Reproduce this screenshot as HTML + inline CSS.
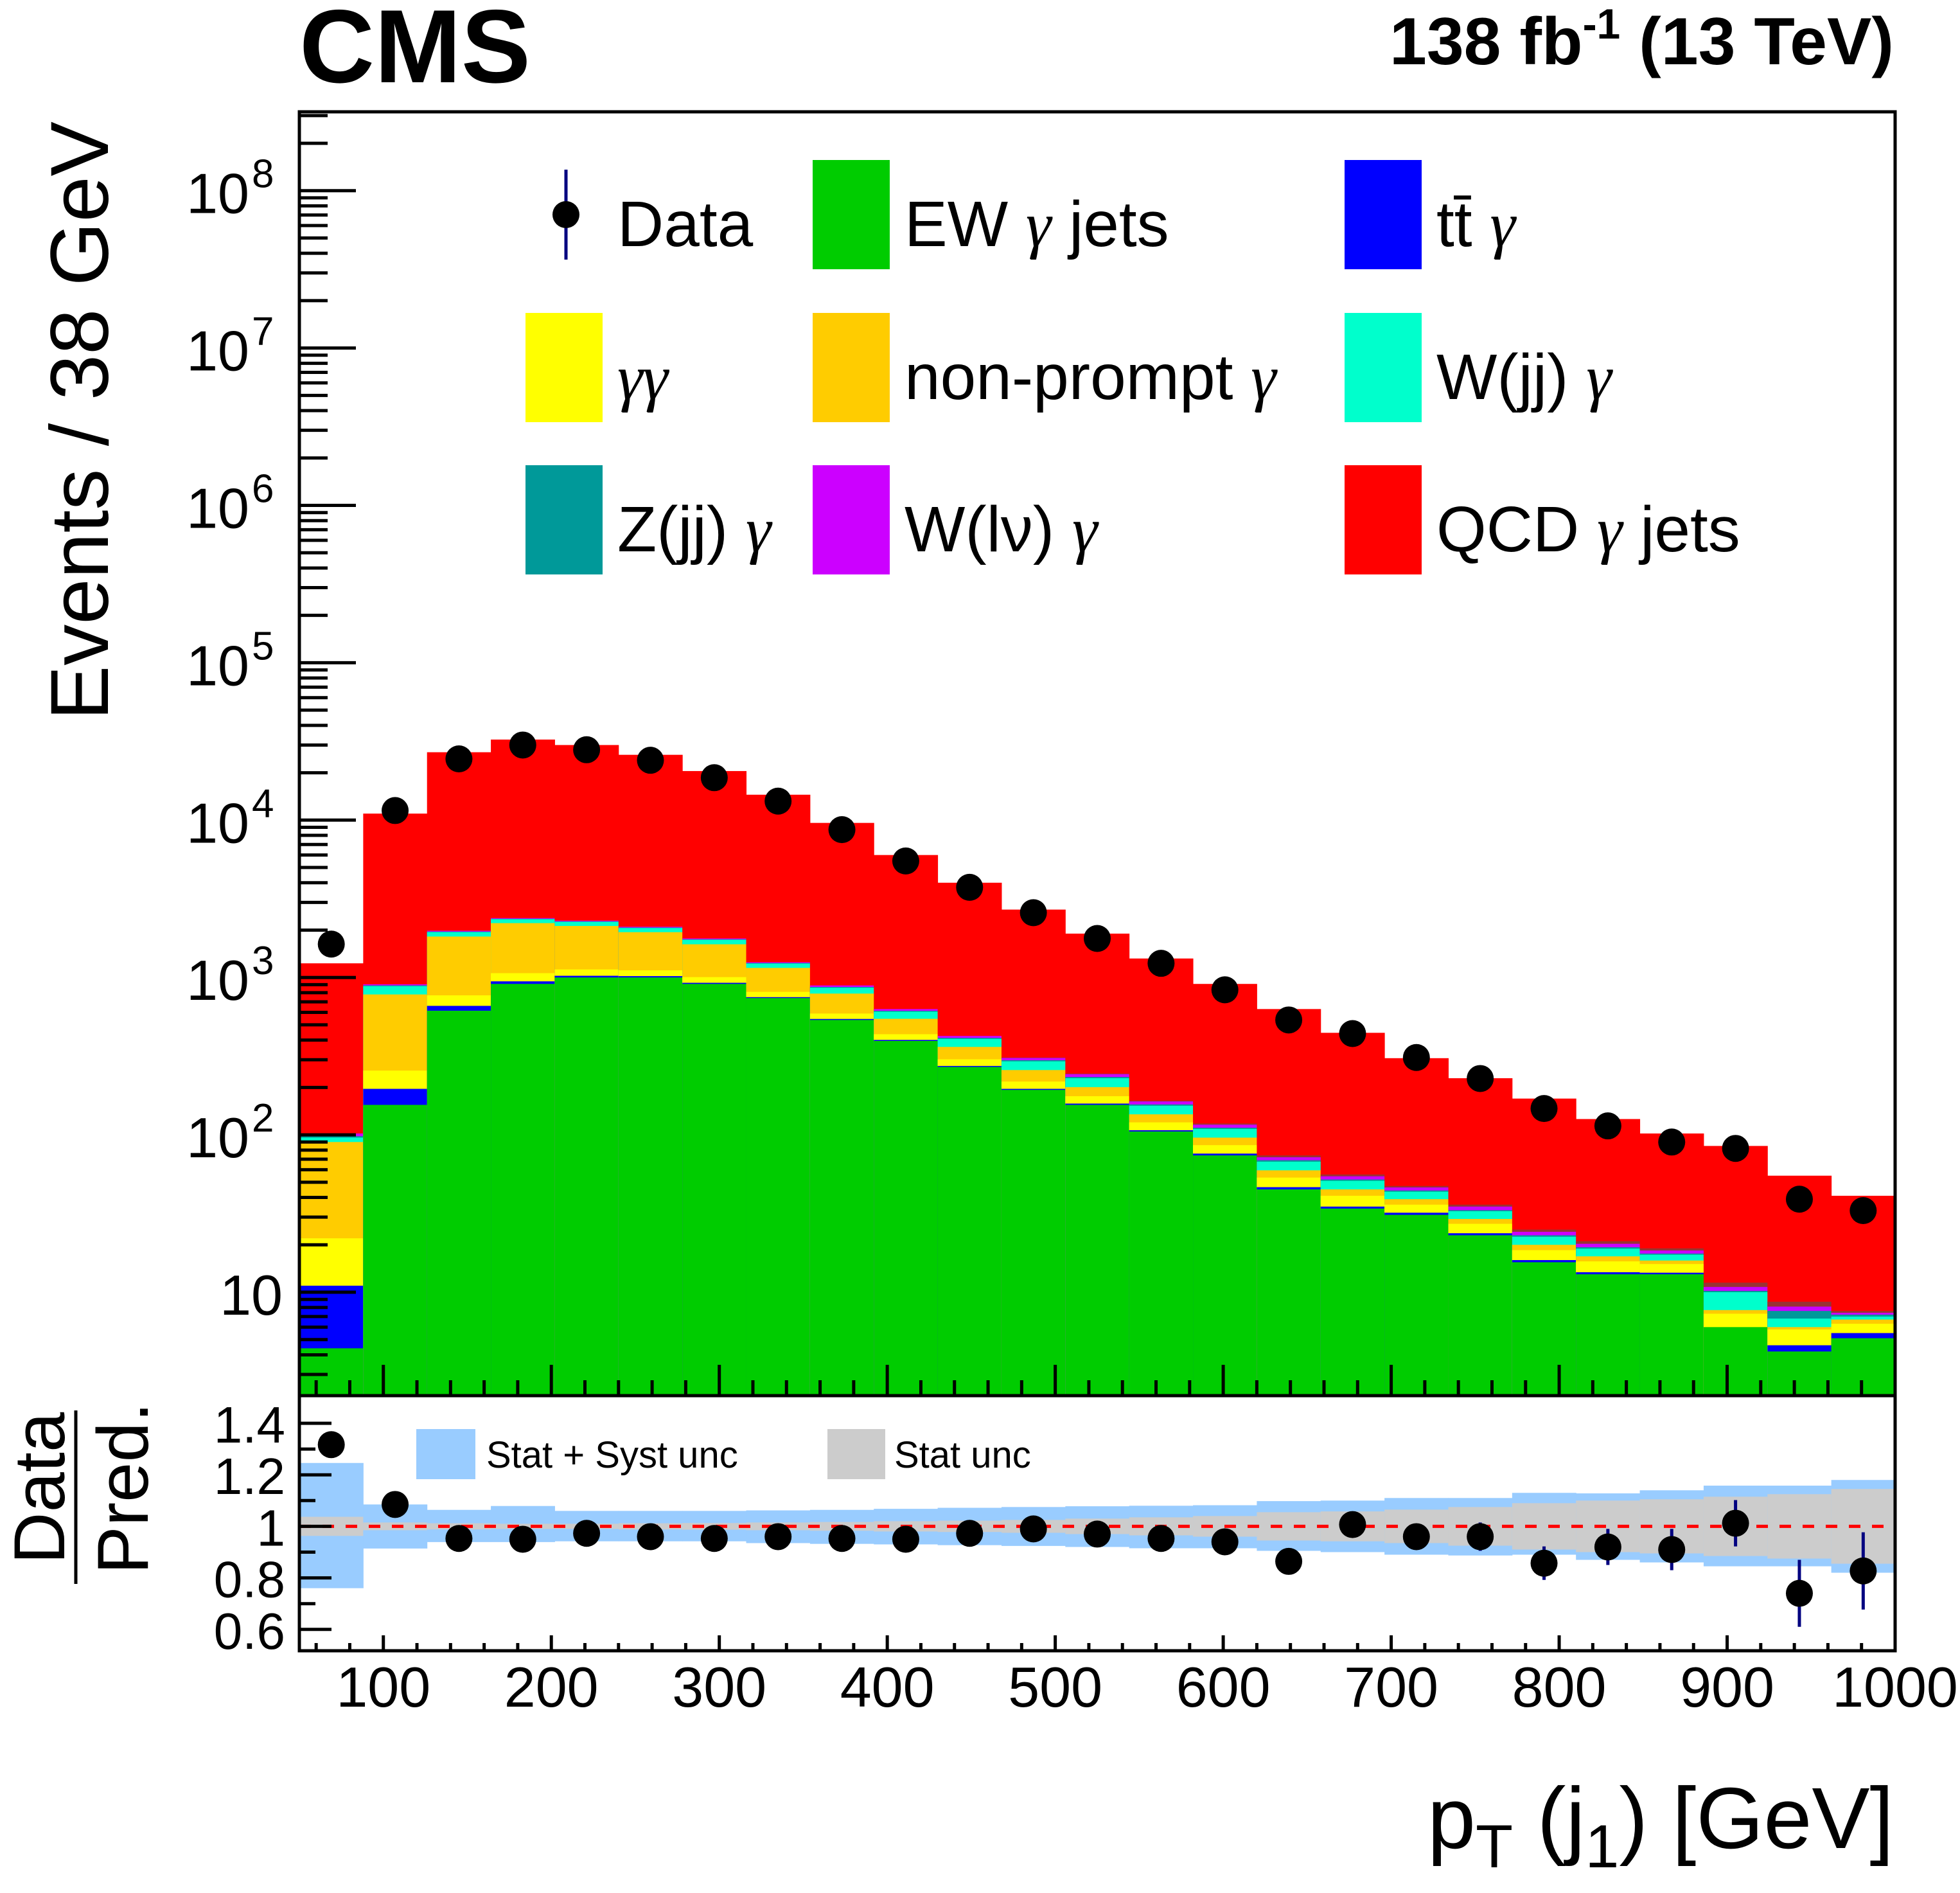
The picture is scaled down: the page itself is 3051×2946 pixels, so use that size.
<!DOCTYPE html>
<html><head><meta charset="utf-8"><style>
html,body{margin:0;padding:0;background:#fff;}
svg{display:block;font-family:"Liberation Sans",Arial,sans-serif;}
.g{font-family:"Liberation Serif",serif;font-style:italic;}
</style></head><body>
<svg id="chart" xmlns="http://www.w3.org/2000/svg" width="3051" height="2946" viewBox="0 0 3051 2946">
<text x="466" y="128" font-size="162" font-weight="bold">CMS</text>
<text x="2948" y="100" font-size="104" font-weight="bold" text-anchor="end">138 fb<tspan dy="-40" font-size="66">-1</tspan><tspan dy="40"> (13 TeV)</tspan></text>
<g id="main"></g>
<g id="ratio"></g>
<g id="axes"></g>
<g id="legend"></g>
<text transform="translate(168,655) rotate(-90)" font-size="128" text-anchor="middle">Events / 38 GeV</text>
<g>
<text transform="translate(100,2316) rotate(-90)" font-size="112" text-anchor="middle">Data</text>
<line x1="118" y1="2195" x2="118" y2="2465" stroke="#000" stroke-width="5"/>
<text transform="translate(230,2316) rotate(-90)" font-size="112" text-anchor="middle">Pred.</text>
</g>
<text x="2948" y="2876" font-size="135" text-anchor="end">p<tspan dy="30" font-size="95">T</tspan><tspan dy="-30"> (j</tspan><tspan dy="30" font-size="95">1</tspan><tspan dy="-30">) [GeV]</tspan></text>
</svg>
<script>
// ---- data ----
const binLow = [50,88,126,164,202,240,278,316,354,392,430,468,506,544,582,620,658,696,734,772,810,848,886,924,962];
const dataVals = [1630,11500,24500,30000,28000,24000,18600,13200,8700,5500,3740,2580,1770,1230,835,537,440,310,228,147,114,90,82,39,33];
const totalPred = [1230,11000,27000,32500,30000,26000,20500,14500,9600,6000,4000,2700,1900,1320,910,630,445,307,229,170,126,102,85,55,41];
const ewGJets = [4.4,155,615,910,1000,1000,910,740,537,395,270,193,155,105,74,45,34,31,23,15.5,13,13,6,4.2,5.1];
const ttGamma = [6.6,41,45,35,25,20,15,10,8,6,4,3,3,2,2,1.5,1,1,0.7,0.5,0.4,0.3,0,0.4,0.4];
const diPhoton = [11,60,110,120,100,90,80,60,45,35,28,22,18,13,10,7,6,4,3.5,2.5,2.3,1.8,1.3,1.2,0.8];
const nonPrompt = [68,524,1050,1150,1000,830,620,340,200,110,60,40,25,15,10,6,4,3,2,1.5,1.2,0.8,0.4,0.2,0.4];
const wjjGamma = [6,100,120,130,130,120,110,75,70,60,45,35,28,18,13,8,6,4.5,3.5,2.5,2,1.4,2.3,0.8,0.3];
const zjjGamma = [2,10,15,15,15,15,12,10,10,8,6,5,4,3,2,1.5,1,0.8,0.5,0.5,0.4,0.3,0.2,0.8,0.2];
const wlnGamma = [4,15,25,25,25,25,23,15,20,16,12,10,10,7,5,3,2.5,2,1.8,1.2,1,0.8,0.6,0.5,0.2];
const otherBkg = [0,0,0,0,0,0,0,0,0,0,0,2,2,2,2,2,1.5,1,1,0.8,0.8,0.6,0.7,0.6,0.2];
const ratioVals = [1.317,1.085,0.953,0.95,0.973,0.96,0.953,0.96,0.953,0.95,0.973,0.99,0.97,0.953,0.94,0.864,1.007,0.96,0.96,0.857,0.92,0.91,1.012,0.74,0.827];
const ratioErr = [0.03,0.01,0.008,0.007,0.007,0.008,0.009,0.01,0.012,0.014,0.017,0.02,0.024,0.028,0.033,0.04,0.045,0.05,0.055,0.065,0.07,0.08,0.09,0.13,0.15];
const systUp = [0.246,0.085,0.064,0.079,0.06,0.06,0.06,0.062,0.064,0.068,0.072,0.075,0.078,0.08,0.082,0.098,0.1,0.11,0.11,0.13,0.128,0.14,0.158,0.158,0.18];
const systDown = [0.24,0.086,0.061,0.061,0.058,0.058,0.058,0.065,0.068,0.07,0.073,0.076,0.08,0.085,0.085,0.095,0.1,0.11,0.113,0.11,0.13,0.14,0.155,0.155,0.18];
const statBand = [0.037,0.015,0.012,0.01,0.01,0.012,0.013,0.015,0.017,0.02,0.022,0.025,0.03,0.035,0.04,0.055,0.058,0.065,0.075,0.09,0.1,0.105,0.115,0.125,0.145];
const binW = 38;
const xTicks = [100,200,300,400,500,600,700,800,900,1000];
const yDecades = [1,2,3,4,5,6,7,8];
const ratioTicks = [0.6,0.8,1,1.2,1.4];
const ratioTickLabels = ["0.6","0.8","1","1.2","1.4"];

// ---- geometry ----
const L=466,R=2950,T=174,MB=2172,RB=2569;
const NS="http://www.w3.org/2000/svg";
function X(v){return L+(v-50)*(R-L)/950;}
function Y(v){return 2011-244.9*(Math.log10(Math.max(v,1e-3))-1);}
function YR(r){return 2215+(1.4-r)*401;}
function mk(tag,attrs,parent){const e=document.createElementNS(NS,tag);for(const k in attrs)e.setAttribute(k,attrs[k]);parent.appendChild(e);return e;}
const main=document.getElementById('main'),ratio=document.getElementById('ratio'),axes=document.getElementById('axes'),legend=document.getElementById('legend');

const cp=mk('clipPath',{id:'mclip'},main);
mk('rect',{x:L,y:T,width:R-L,height:MB-T},cp);
const stackG=mk('g',{'clip-path':'url(#mclip)'},main);

const comps=[[ewGJets,'#00cc00','ew'],[ttGamma,'#0000ff','ttgamma'],[diPhoton,'#ffff00','diphoton'],[nonPrompt,'#ffcc00','nonprompt'],[wjjGamma,'#00ffcc','wjj'],[zjjGamma,'#009999','zjj'],[wlnGamma,'#cc00ff','wlnu'],[otherBkg,'#993333','other']];
for(let i=0;i<binLow.length;i++){
  const x0=X(binLow[i]),x1=X(binLow[i]+binW);
  let cum=0;
  const tops=[];
  for(const c of comps){cum+=c[0][i];tops.push(cum);}
  const r=mk('rect',{x:x0,y:Y(totalPred[i]),width:x1-x0+0.5,height:MB-Y(totalPred[i]),fill:'#ff0000'},stackG);
  
  
  for(let k=comps.length-1;k>=0;k--){
    if(comps[k][0][i]<=0&&k>0)continue;
    const yt=Y(tops[k]);
    const e=mk('rect',{x:x0,y:yt,width:x1-x0+0.5,height:MB-yt,fill:comps[k][1]},stackG);
    
    
  }
}
for(let i=0;i<binLow.length;i++){
  const c=mk('circle',{cx:X(binLow[i]+binW/2),cy:Y(dataVals[i]),r:21,fill:'#000'},main);
  
  
}
for(let i=0;i<binLow.length;i++){
  const x0=X(binLow[i]),x1=X(binLow[i]+binW);
  const b=mk('rect',{x:x0,y:YR(1+systUp[i]),width:x1-x0+0.5,height:YR(1-systDown[i])-YR(1+systUp[i]),fill:'#99ccff'},ratio);
  
  
  const g=mk('rect',{x:x0,y:YR(1+statBand[i]),width:x1-x0+0.5,height:YR(1-statBand[i])-YR(1+statBand[i]),fill:'#cccccc'},ratio);
  
  
}
const dl=mk('line',{x1:L,y1:YR(1),x2:R,y2:YR(1),stroke:'#ff0000','stroke-width':5,'stroke-dasharray':'18,18'},ratio);


for(let i=0;i<binLow.length;i++){
  const cx=X(binLow[i]+binW/2),cy=YR(ratioVals[i]);
  const y1=Math.max(YR(ratioVals[i]+ratioErr[i]),T),y2=Math.min(YR(ratioVals[i]-ratioErr[i]),RB);
  mk('line',{x1:cx,y1:y1,x2:cx,y2:y2,stroke:'#000080','stroke-width':5},ratio);
  const c=mk('circle',{cx:cx,cy:cy,r:21,fill:'#000'},ratio);
  
  
}
mk('rect',{x:L,y:T,width:R-L,height:MB-T,fill:'none',stroke:'#000','stroke-width':5},axes);
mk('rect',{x:L,y:MB,width:R-L,height:RB-MB,fill:'none',stroke:'#000','stroke-width':5},axes);
for(let v=60;v<=1000;v+=20){
  const maj=(v%100===0);const x=X(v);
  mk('line',{x1:x,y1:MB,x2:x,y2:MB-(maj?48:24),stroke:'#000','stroke-width':5},axes);
  mk('line',{x1:x,y1:RB,x2:x,y2:RB-(maj?24:12),stroke:'#000','stroke-width':5},axes);
}
xTicks.forEach(v=>{
  const t=mk('text',{x:X(v),y:2656,'font-size':88,'text-anchor':'middle'},axes);
  t.textContent=v;
  
  
});
for(let d=0;d<=8;d++){
  for(let m=1;m<=9;m++){
    const v=m*Math.pow(10,d);const y=Y(v);
    if(y<T||y>MB)continue;
    mk('line',{x1:L,y1:y,x2:L+(m===1?88:44),y2:y,stroke:'#000','stroke-width':5},axes);
  }
}
yDecades.forEach(d=>{
  const y=Y(Math.pow(10,d));
  const t=mk('text',{x:d===1?440:388,y:y+35,'font-size':88,'text-anchor':'end'},axes);
  t.textContent='10';
  
  
  if(d>1){const s=mk('text',{x:392,y:y-5,'font-size':62},axes);s.textContent=d;}
});
for(let r=0.6;r<=1.45;r+=0.1){
  const y=YR(r);const maj=Math.abs(Math.round(r*10)%2)===0;
  mk('line',{x1:L,y1:y,x2:L+(maj?50:25),y2:y,stroke:'#000','stroke-width':5},axes);
}
ratioTicks.forEach((r,i)=>{
  const t=mk('text',{x:444,y:YR(r)+30,'font-size':80,'text-anchor':'end'},axes);
  t.textContent=ratioTickLabels[i];
  
  
});
const G='<tspan class="g">\u03b3</tspan>';
const legItems=[
 ['data',null,'Data',0,0],['ew','#00cc00','EW '+G+' jets',1,0],['ttgamma','#0000ff','t<tspan>t\u0304</tspan> '+G,2,0],
 ['diphoton','#ffff00',G+G,0,1],['nonprompt','#ffcc00','non-prompt '+G,1,1],['wjj','#00ffcc','W(jj) '+G,2,1],
 ['zjj','#009999','Z(jj) '+G,0,2],['wlnu','#cc00ff','W(l\u03bd) '+G,1,2],['qcd','#ff0000','QCD '+G+' jets',2,2]];
const colX=[818,1265,2093],rowY=[249,487,724];
legItems.forEach(it=>{
  const g=mk('g',{},legend);
  
  
  const x=colX[it[3]],y=rowY[it[4]];
  if(it[1]){mk('rect',{x:x,y:y,width:120,height:170,fill:it[1]},g);}
  else{mk('line',{x1:881,y1:y+15,x2:881,y2:y+155,stroke:'#000080','stroke-width':5},g);mk('circle',{cx:881,cy:y+85,r:21,fill:'#000'},g);}
  const t=mk('text',{x:x+143,y:y+134,'font-size':100},g);
  t.innerHTML=it[2];
});
const lg1=mk('g',{},legend);


mk('rect',{x:648,y:2224,width:92,height:78,fill:'#99ccff'},lg1);
mk('text',{x:757,y:2284,'font-size':58},lg1).textContent='Stat + Syst unc';
const lg2=mk('g',{},legend);


mk('rect',{x:1288,y:2224,width:90,height:78,fill:'#cccccc'},lg2);
mk('text',{x:1392,y:2284,'font-size':58},lg2).textContent='Stat unc';
</script>
</body></html>
